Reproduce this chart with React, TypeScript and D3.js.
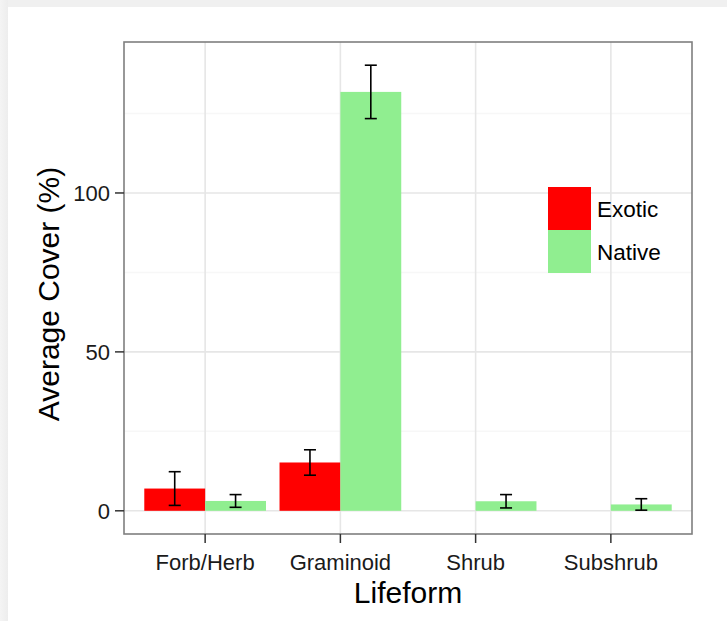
import * as d3 from "d3";

// chart values
const categories = ["Forb/Herb", "Graminoid", "Shrub", "Subshrub"];
const exotic: (number | null)[] = [7.0, 15.2, null, null];
const exoticSE: (number | null)[] = [5.3, 4.0, null, null];
const native: number[] = [3.1, 131.8, 3.0, 2.0];
const nativeSE: number[] = [2.0, 8.4, 2.1, 1.8];
const yTicks = [0, 50, 100];
const yMinor = [25, 75, 125];
const seriesNames = ["Exotic", "Native"];
const seriesColors = ["#ff0000", "#90ee90"];

const width = 727;
const height = 621;
const panel = { left: 124, right: 692, top: 42, bottom: 534 };
const font = "'Liberation Sans', Arial, sans-serif";

export default function App() {
  const x = d3.scaleLinear().domain([0.4, categories.length + 0.6]).range([panel.left, panel.right]);
  const y = d3.scaleLinear().domain([-7.3, 147.5]).range([panel.bottom, panel.top]);
  const half = 0.45;
  const whisker = 6;

  const bars: any[] = [];
  categories.forEach((c, i) => {
    const pos = i + 1;
    if (exotic[i] != null) {
      bars.push({ key: c + "e", x0: pos - half, x1: pos, v: exotic[i], se: exoticSE[i], color: seriesColors[0] });
    }
    bars.push({ key: c + "n", x0: pos, x1: pos + half, v: native[i], se: nativeSE[i], color: seriesColors[1] });
  });

  const keyX = 548;
  const keyY = 187;
  const keySize = 43;

  return (
    <div style={{ position: "absolute", left: 0, top: 0 }}>
      <svg width={width} height={height} style={{ display: "block" }}>
        <defs>
          <linearGradient id="lshade" x1="0" x2="1" y1="0" y2="0">
            <stop offset="0" stopColor="#f4f4f4" />
            <stop offset="1" stopColor="#ededed" />
          </linearGradient>
        </defs>
        <rect x={0} y={0} width={width} height={height} fill="#ffffff" />
        <rect x={0} y={0} width={width} height={7} fill="#f0f0f0" />
        <rect x={0} y={0} width={8} height={height} fill="url(#lshade)" />

        {/* grid */}
        {yMinor.map((t) => (
          <line key={"m" + t} x1={panel.left} x2={panel.right} y1={y(t)} y2={y(t)} stroke="#f7f7f7" strokeWidth={1.5} />
        ))}
        {yTicks.map((t) => (
          <line key={"g" + t} x1={panel.left} x2={panel.right} y1={y(t)} y2={y(t)} stroke="#e6e6e6" strokeWidth={1.6} />
        ))}
        {categories.map((c, i) => (
          <line key={"v" + c} x1={x(i + 1)} x2={x(i + 1)} y1={panel.top} y2={panel.bottom} stroke="#e6e6e6" strokeWidth={1.6} />
        ))}

        {/* bars */}
        {bars.map((b) => (
          <rect key={b.key} x={x(b.x0)} y={y(b.v)} width={x(b.x1) - x(b.x0)} height={y(0) - y(b.v)} fill={b.color} />
        ))}

        {/* error bars */}
        {bars.map((b) => {
          const cx = x((b.x0 + b.x1) / 2);
          const top = y(b.v + b.se);
          const bot = y(b.v - b.se);
          return (
            <g key={"e" + b.key} stroke="#000" strokeWidth={1.6} fill="none">
              <line x1={cx} x2={cx} y1={top} y2={bot} />
              <line x1={cx - whisker} x2={cx + whisker} y1={top} y2={top} />
              <line x1={cx - whisker} x2={cx + whisker} y1={bot} y2={bot} />
            </g>
          );
        })}

        {/* legend */}
        {seriesNames.map((s, i) => (
          <g key={s}>
            <rect x={keyX} y={keyY + i * keySize} width={keySize} height={keySize} fill={seriesColors[i]} />
            <text x={keyX + keySize + 6} y={keyY + i * keySize + keySize / 2 + 8.5} fontFamily={font} fontSize={22.5} fill="#000">
              {s}
            </text>
          </g>
        ))}

        {/* panel border */}
        <rect
          x={panel.left}
          y={panel.top}
          width={panel.right - panel.left}
          height={panel.bottom - panel.top}
          fill="none"
          stroke="#7f7f7f"
          strokeWidth={1.6}
        />

        {/* y axis */}
        {yTicks.map((t) => (
          <g key={"yt" + t}>
            <line x1={panel.left - 9} x2={panel.left} y1={y(t)} y2={y(t)} stroke="#333" strokeWidth={1.5} />
            <text x={panel.left - 14} y={y(t) + 7.9} textAnchor="end" fontFamily={font} fontSize={22} fill="#1a1a1a">
              {t}
            </text>
          </g>
        ))}

        {/* x axis */}
        {categories.map((c, i) => (
          <g key={"xt" + c}>
            <line x1={x(i + 1)} x2={x(i + 1)} y1={panel.bottom} y2={panel.bottom + 9} stroke="#333" strokeWidth={1.5} />
            <text x={x(i + 1)} y={569.5} textAnchor="middle" fontFamily={font} fontSize={22} fill="#1a1a1a">
              {c}
            </text>
          </g>
        ))}

        <text x={(panel.left + panel.right) / 2} y={602.5} textAnchor="middle" fontFamily={font} fontSize={30} fill="#000">
          Lifeform
        </text>
        <text
          transform={`translate(59,${(panel.top + panel.bottom) / 2 + 6}) rotate(-90)`}
          textAnchor="middle"
          fontFamily={font}
          fontSize={30}
          fill="#000"
        >
          Average Cover (%)
        </text>
      </svg>
    </div>
  );
}
